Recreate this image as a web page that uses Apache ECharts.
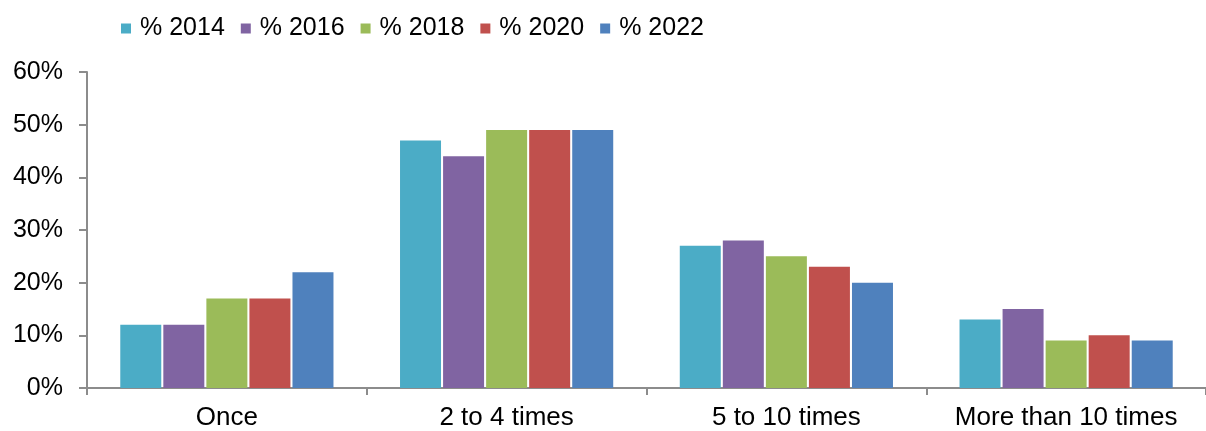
<!DOCTYPE html>
<html>
<head>
<meta charset="utf-8">
<script src="https://cdn.jsdelivr.net/npm/echarts@6/dist/echarts.min.js"></script>
<style>
  html, body { margin: 0; padding: 0; background: #fff; }
  #chart { width: 1206px; height: 431px; }
</style>
</head>
<body>
<div id="chart"></div>
<script>
const categories = ['Once', '2 to 4 times', '5 to 10 times', 'More than 10 times']
const seriesNames = ['% 2014', '% 2016', '% 2018', '% 2020', '% 2022']
const values2014 = [12, 47, 27, 13]
const values2016 = [12, 44, 28, 15]
const values2018 = [17, 49, 25, 9]
const values2020 = [17, 49, 23, 10]
const values2022 = [22, 49, 20, 9]
const colors = ['#4BACC6', '#8064A2', '#9BBB59', '#C0504D', '#4F81BD']

const allValues = [values2014, values2016, values2018, values2020, values2022]
const font = '"Liberation Sans", Arial, sans-serif'

const chart = echarts.init(document.getElementById('chart'))

const option = {
  animation: false,
  color: colors,
  textStyle: { fontFamily: font, color: '#000' },
  legend: {
    left: 116,
    top: 11,
    itemWidth: 10,
    itemHeight: 10,
    itemGap: 16,
    icon: 'rect',
    textStyle: { fontSize: 25, color: '#000', fontFamily: font, padding: [0, 0, 0, 4] },
    data: seriesNames
  },
  grid: {
    left: 87,
    width: 1125,
    top: 72,
    bottom: 43,
    containLabel: false
  },
  xAxis: {
    type: 'category',
    data: categories,
    axisLine: { lineStyle: { color: '#8c8c8c', width: 2 } },
    axisTick: { show: true, interval: 0, length: 7, lineStyle: { color: '#8c8c8c', width: 2 } },
    axisLabel: { interval: 0, fontSize: 26, color: '#000', margin: 17, fontFamily: font }
  },
  yAxis: {
    type: 'value',
    min: 0,
    max: 60,
    interval: 10,
    axisLine: { show: true, lineStyle: { color: '#8c8c8c', width: 2 } },
    axisTick: { show: true, length: 8, lineStyle: { color: '#8c8c8c', width: 2 } },
    splitLine: { show: false },
    axisLabel: { formatter: '{value}%', fontSize: 25, color: '#000', margin: 24, fontFamily: font }
  },
  series: seriesNames.map((name, i) => ({
    name,
    type: 'bar',
    barWidth: 41,
    barGap: '5%',
    data: allValues[i]
  }))
}

chart.setOption(option)
</script>
</body>
</html>
